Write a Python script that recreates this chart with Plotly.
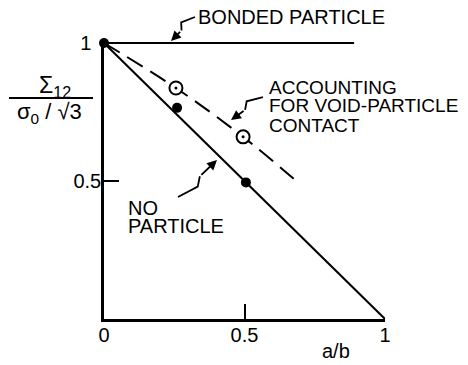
import plotly.graph_objects as go

# curves
bonded_x = [0, 0.89]
bonded_y = [1, 1]
no_particle_x = [0, 1]
no_particle_y = [1, 0]
contact_x = [0, 0.256, 0.495, 0.70]
contact_y = [1, 0.837, 0.66, 0.486]

# measured points
solid_x = [0, 0.26, 0.505]
solid_y = [1, 0.765, 0.495]
open_x = [0.256, 0.495]
open_y = [0.837, 0.66]

x_ticks = [0, 0.5, 1]
y_ticks = [0.5, 1]

FONT = "Liberation Sans"
BLACK = "black"

fig = go.Figure()
fig.add_trace(go.Scatter(x=bonded_x, y=bonded_y, mode="lines",
                         line=dict(color=BLACK, width=2.2), cliponaxis=False))
fig.add_trace(go.Scatter(x=no_particle_x, y=no_particle_y, mode="lines",
                         line=dict(color=BLACK, width=2), cliponaxis=False))
fig.add_trace(go.Scatter(x=contact_x, y=contact_y, mode="lines",
                         line=dict(color=BLACK, width=2, dash="18px,9px", shape="spline"),
                         cliponaxis=False))
fig.add_trace(go.Scatter(x=solid_x, y=solid_y, mode="markers",
                         marker=dict(color=BLACK, size=10), cliponaxis=False))
# open circles with a centre dot
fig.add_trace(go.Scatter(x=open_x, y=open_y, mode="markers",
                         marker=dict(color="white", size=13, line=dict(color=BLACK, width=2)),
                         cliponaxis=False))
fig.add_trace(go.Scatter(x=open_x, y=open_y, mode="markers",
                         marker=dict(color=BLACK, size=3), cliponaxis=False))

# plot area: page x 104..385, page y 42..319 (one spare pixel above y=1)
PH = 277


def px(x, y):
    # pixel position in the page -> paper coords of the plot area
    return (x - 104) / 281, (319 - y) / PH


def zig_arrow(s, e):
    ex, ey = px(*e)
    dx, dy = e[0] - s[0], e[1] - s[1]
    ln = (dx * dx + dy * dy) ** 0.5
    nx, ny = -dy / ln, dx / ln
    a = (s[0] + 0.56 * dx, s[1] + 0.56 * dy)
    b = (s[0] + 0.40 * dx + 6 * nx, s[1] + 0.40 * dy + 6 * ny)
    pts = [px(*s), px(*b), px(*a)]
    path = "M " + " L ".join(f"{p[0]:.4f},{p[1]:.4f}" for p in pts)
    fig.add_shape(type="path", path=path, xref="paper", yref="paper",
                  line=dict(color=BLACK, width=1.8))
    fig.add_annotation(x=ex, y=ey, ax=a[0] - e[0], ay=a[1] - e[1],
                       xref="paper", yref="paper", text="", showarrow=True,
                       arrowhead=2, arrowsize=1.1, arrowwidth=1.8, arrowcolor=BLACK)


zig_arrow((195, 17), (171, 41))
zig_arrow((263, 97), (231, 120))
zig_arrow((178, 197), (217, 160))


def label(text, x, y, size=20, anchor="left"):
    lx, ly = px(x, y)
    fig.add_annotation(x=lx, y=ly, xref="paper", yref="paper", text=text,
                       showarrow=False, xanchor=anchor, yanchor="middle",
                       font=dict(family=FONT, size=size, color=BLACK))


label("BONDED PARTICLE", 196, 17)
label("ACCOUNTING", 267, 87, size=19)
label("FOR VOID-PARTICLE", 267, 106, size=19)
label("CONTACT", 267, 125, size=19)
label("NO", 126, 208)
label("PARTICLE", 126, 226)
label("a/b", 336, 351, anchor="center")

# y axis title as a fraction
label("Σ<sub>12</sub>", 55, 86, size=23, anchor="center")
label("σ<sub>0</sub> / √3", 49, 113, size=22, anchor="center")
fx0, fy = px(9, 98)
fx1, _ = px(93, 98)
fig.add_shape(type="line", x0=fx0, x1=fx1, y0=fy, y1=fy, xref="paper", yref="paper",
              line=dict(color=BLACK, width=1.8))

axis_common = dict(showgrid=False, zeroline=False, showline=True, linecolor=BLACK,
                   linewidth=2.5, ticks="inside", ticklen=15, tickwidth=2,
                   tickcolor=BLACK, ticklabelstandoff=-4,
                   tickfont=dict(family=FONT, size=20, color=BLACK))
fig.update_xaxes(range=[0, 1], tickvals=x_ticks, ticktext=["0", "0.5", "1"], **axis_common)
fig.update_yaxes(range=[0, PH / 276], tickvals=y_ticks, ticktext=["0.5", "1\u2002"],
                 **axis_common)

# the page body adds an 8px offset, so the figure is drawn 8px smaller
fig.update_layout(width=460, height=357, showlegend=False,
                  margin=dict(l=96, r=83, t=34, b=46),
                  plot_bgcolor="white", paper_bgcolor="white")

fig.write_html("out.html")
